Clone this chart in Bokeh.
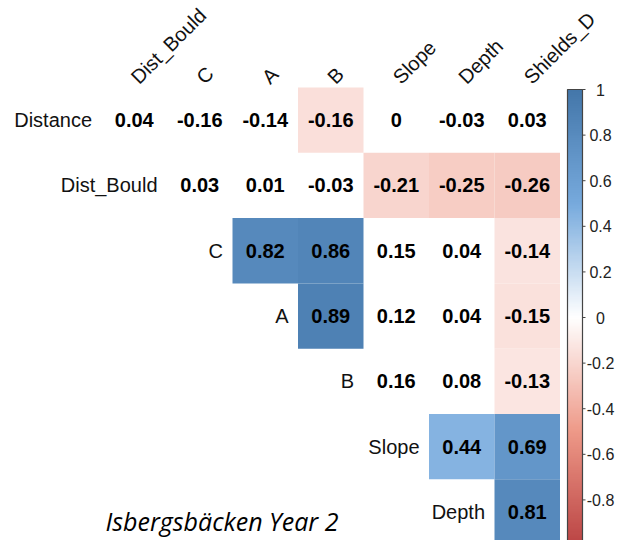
import math
import numpy as np
from bokeh.plotting import figure
from bokeh.models import ColumnDataSource, LinearColorMapper, Range1d
from bokeh.core.properties import value
from bokeh.embed import file_html
from bokeh.resources import INLINE

# ---------------- data ----------------
variables = ["Distance", "Dist_Bould", "C", "A", "B", "Slope", "Depth", "Shields_D"]

# upper-triangle correlations, row by row (columns to the right of the diagonal)
r_distance   = [0.04, -0.16, -0.14, -0.16, 0.00, -0.03, 0.03]
r_dist_bould = [0.03, 0.01, -0.03, -0.21, -0.25, -0.26]
r_c          = [0.82, 0.86, 0.15, 0.04, -0.14]
r_a          = [0.89, 0.12, 0.04, -0.15]
r_b          = [0.16, 0.08, -0.13]
r_slope      = [0.44, 0.69]
r_depth      = [0.81]

# significance flags (1 = coloured cell, 0 = blank cell)
s_distance   = [0, 0, 0, 1, 0, 0, 0]
s_dist_bould = [0, 0, 0, 1, 1, 1]
s_c          = [1, 1, 0, 0, 1]
s_a          = [1, 0, 0, 1]
s_b          = [0, 0, 1]
s_slope      = [1, 1]
s_depth      = [1]

cb_ticks = [1.0, 0.8, 0.6, 0.4, 0.2, 0.0, -0.2, -0.4, -0.6, -0.8, -1.0]
cb_tick_labels = ["1", "0.8", "0.6", "0.4", "0.2", "0", "-0.2", "-0.4", "-0.6", "-0.8", "-1"]

title_text = "Isbergsbäcken Year 2"

rows_r = [r_distance, r_dist_bould, r_c, r_a, r_b, r_slope, r_depth]
rows_s = [s_distance, s_dist_bould, s_c, s_a, s_b, s_slope, s_depth]

# ---------------- palette (corrplot-style ramp) ----------------
stops = ["#BB4444", "#EE9988", "#FFFFFF", "#77AADD", "#4477AA"]
def hex2rgb(h):
    return [int(h[i:i + 2], 16) for i in (1, 3, 5)]
stop_rgb = np.array([hex2rgb(h) for h in stops], dtype=float)
n_col = 200
tpos = np.linspace(0, 1, n_col)
spos = np.linspace(0, 1, len(stops))
palette = []
for t in tpos:
    rgb = [np.interp(t, spos, stop_rgb[:, k]) for k in range(3)]
    palette.append("#%02x%02x%02x" % tuple(int(round(c)) for c in rgb))
mapper = LinearColorMapper(palette=palette, low=-1, high=1)

# ---------------- table ----------------
xs, ys, rs, labs, sig = [], [], [], [], []
for i, (vals, flags) in enumerate(zip(rows_r, rows_s)):
    for k, (v, f) in enumerate(zip(vals, flags)):
        xs.append(i + 1 + k)
        ys.append(i)
        rs.append(v)
        labs.append("%g" % round(v, 2))
        sig.append(f)

src_all = ColumnDataSource(dict(x=xs, y=ys, r=rs, lab=labs))
src_sig = ColumnDataSource(dict(x=[a for a, f in zip(xs, sig) if f],
                                y=[b for b, f in zip(ys, sig) if f],
                                r=[c for c, f in zip(rs, sig) if f]))

row_idx = list(range(len(variables) - 1))
col_idx = list(range(1, len(variables)))
src_rowlab = ColumnDataSource(dict(x=[i + 0.355 for i in row_idx], y=row_idx,
                                   t=variables[:-1]))
src_collab = ColumnDataSource(dict(x=[j + 0.0 for j in col_idx],
                                   y=[-0.61] * len(col_idx), t=variables[1:]))

# ---------------- figure ----------------
W, H = 625, 540
p = figure(width=W, height=H,
           x_range=Range1d(-1.042, 8.500), y_range=Range1d(6.437, -1.832),
           x_axis_location=None, y_axis_location=None,
           output_backend="svg", toolbar_location=None, min_border=0)
p.extra_x_ranges = {"px": Range1d(0, W)}
p.extra_y_ranges = {"cb": Range1d(-0.978, 1.3904), "pxy": Range1d(H, 0)}
p.grid.visible = False
p.outline_line_color = None
p.background_fill_color = "white"
p.border_fill_color = "white"

p.rect(x="x", y="y", width=1, height=1, source=src_sig,
       fill_color={"field": "r", "transform": mapper}, line_color=None)

p.text(x="x", y="y", text="lab", source=src_all,
       text_font=value("Liberation Sans"), text_font_style="bold",
       text_font_size="20px", text_align="center", text_baseline="middle",
       text_color="black")

p.text(x="x", y="y", text="t", source=src_rowlab,
       text_font=value("Liberation Sans"), text_font_size="20px",
       text_align="right", text_baseline="middle", text_color="#111111")

p.text(x="x", y="y", text="t", source=src_collab, angle=math.pi / 4,
       text_font=value("Liberation Sans"), text_font_size="20px",
       text_align="left", text_baseline="alphabetic", text_color="#111111")

# ---------------- colour bar ----------------
grad = np.linspace(-1, 1, 400).reshape(400, 1)
bar_l, bar_r = 567, 582
p.image(image=[grad], x=bar_l, y=-1, dw=bar_r - bar_l, dh=2, color_mapper=mapper,
        x_range_name="px", y_range_name="cb")
p.quad(left=bar_l, right=bar_r, bottom=-1, top=1, fill_color=None,
       line_color="#444444", line_width=1.2, x_range_name="px", y_range_name="cb")
p.segment(x0=[bar_r] * len(cb_ticks), x1=[bar_r + 3] * len(cb_ticks),
          y0=cb_ticks, y1=cb_ticks, line_color="#444444", line_width=1,
          x_range_name="px", y_range_name="cb")
p.text(x=[600] * len(cb_ticks), y=cb_ticks, text=cb_tick_labels,
       text_font=value("Liberation Sans"), text_font_size="16px",
       text_align="center", text_baseline="middle", text_color="#222222",
       x_range_name="px", y_range_name="cb")

# ---------------- title ----------------
p.text(x=[105], y=[520], text=[title_text], text_font=value("Open Sans"),
       text_font_style="italic", text_font_size="25px", text_align="left",
       text_baseline="middle", text_color="black",
       x_range_name="px", y_range_name="pxy")

open("out.html", "w").write(file_html(p, INLINE))
